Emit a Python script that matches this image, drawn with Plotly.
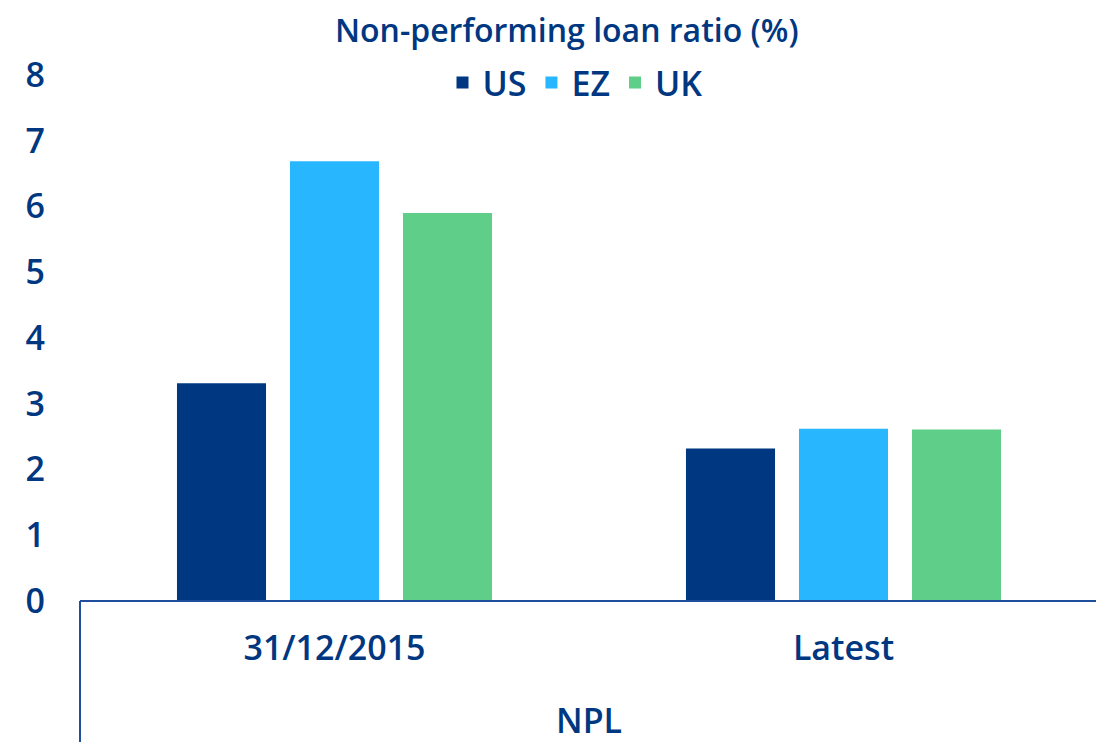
import plotly.graph_objects as go

categories = ["31/12/2015", "Latest"]
series_names = ["US", "EZ", "UK"]
us_values = [3.31, 2.32]
ez_values = [6.69, 2.62]
uk_values = [5.90, 2.61]
y_ticks = [0, 1, 2, 3, 4, 5, 6, 7, 8]
group_label = "NPL"
title_text = "Non-performing loan ratio (%)"

colors = ["#003781", "#28B6FF", "#5FCE89"]
navy = "#003781"
font_family = "Open Sans, Lato, sans-serif"
fs = 34

fig = go.Figure()
for name, vals, col in zip(series_names, [us_values, ez_values, uk_values], colors):
    fig.add_trace(go.Bar(x=categories, y=vals, name=name, marker=dict(color=col, line=dict(width=0))))

# page body has an 8px default margin; figure fills the rest of the window
OFF = 8
W, H = 1104 - OFF, 742 - OFF
L, R, T, B = 80 - OFF, 6, 75 - OFF, 141
ph = H - T - B
pw = W - L - R

fig.update_layout(
    width=W, height=H,
    margin=dict(l=L, r=R, t=T, b=B, autoexpand=False),
    paper_bgcolor="white", plot_bgcolor="white",
    barmode="group", bargap=0.334, bargroupgap=0.212,
    font=dict(family=font_family, color=navy, size=fs, weight=600),
    legend=dict(orientation="h", x=(575 - 80) / pw, xanchor="center",
                y=1 - (83 - 75) / ph, yanchor="middle",
                font=dict(size=fs, color=navy), bgcolor="rgba(0,0,0,0)",
                itemwidth=30, tracegroupgap=0),
    showlegend=True,
)
fig.add_annotation(text=title_text, xref="paper", yref="paper",
                   x=(567 - 80) / pw, xanchor="center",
                   y=1 + (75 - 29) / ph, yanchor="middle", showarrow=False,
                   font=dict(size=32, color=navy, family=font_family, weight=600))
fig.update_yaxes(range=[0, 8], tickvals=y_ticks, showgrid=False, zeroline=False, showline=False,
                 ticks="", ticklabelstandoff=34, tickfont=dict(size=fs, color=navy), automargin=False)
fig.update_xaxes(showgrid=False, showline=False, ticks="", ticklabelstandoff=24,
                 tickfont=dict(size=fs, color=navy), automargin=False)

line_col = "#1F4F9C"
ybot = -(B + 5) / ph
fig.add_shape(type="line", xref="paper", yref="paper", x0=0, x1=1, y0=0, y1=0,
              line=dict(color=line_col, width=2))
fig.add_shape(type="line", xref="paper", yref="paper", x0=0, x1=0, y0=0, y1=ybot,
              line=dict(color=line_col, width=2))
fig.add_shape(type="line", xref="paper", yref="paper", x0=1, x1=1, y0=0, y1=ybot,
              line=dict(color=line_col, width=2))
fig.add_annotation(text=group_label, xref="paper", yref="paper", x=0.5, y=-(720 - 601) / ph,
                   yanchor="middle", showarrow=False, font=dict(size=fs, color=navy))

fig.write_html("out.html")
